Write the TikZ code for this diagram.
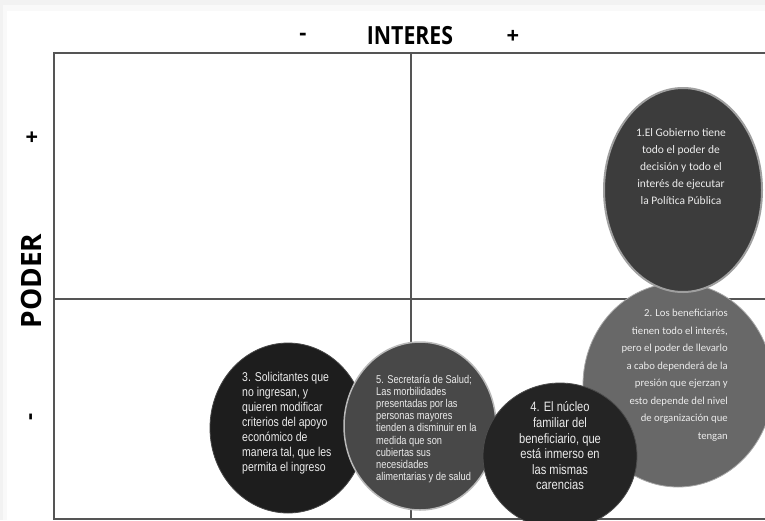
\documentclass[tikz,border=0pt]{standalone}
\usepackage{fontspec}
\usepackage{tikz}
\usetikzlibrary{shapes.geometric}
\newfontfamily\calfont{Carlito}
\newfontfamily\narrowfont[FakeStretch=0.82]{Liberation Sans}
\newfontfamily\headfont{Open Sans}
\newfontfamily\headnarrow[FakeStretch=0.85]{Open Sans}
\definecolor{gridgray}{HTML}{555555}
\definecolor{blobA}{HTML}{3C3C3C}
\definecolor{blobB}{HTML}{686868}
\definecolor{blobC}{HTML}{1D1D1D}
\definecolor{blobD}{HTML}{242424}
\definecolor{blobE}{HTML}{484848}
\definecolor{txtgray}{HTML}{ECECEC}

\begin{document}
\begin{tikzpicture}[x=1pt,y=-1pt,
    blob/.style={ellipse,inner sep=0pt},
    grid/.style={draw=gridgray,line width=1.2pt},
    caltext/.style={text=txtgray,font=\calfont\fontsize{11.5}{17}\selectfont,inner sep=0pt},
    nartext/.style={text=txtgray,inner sep=0pt}]
                % Draw the page and its shadow
                \useasboundingbox (0,0) rectangle (765,520);
                \fill[gray!10] (0,0) rectangle (765,520);
                \fill[gray!5] (3,5) rectangle (765,520);
                \fill[white] (7,11) rectangle (765,520);
                % Draw the axis labels
                \node[font=\headnarrow\bfseries\fontsize{25}{25}\selectfont] (intlab) at (410,36) {INTERES};
                \node[font=\headfont\bfseries\fontsize{22}{22}\selectfont] (intlo) at (303,37) {-};
                \node[font=\headfont\bfseries\fontsize{22}{22}\selectfont] (inthi) at (513,37) {+};
                \node[font=\headfont\bfseries\fontsize{28}{28}\selectfont,rotate=90] (podlab) at (31,281) {PODER};
                \node[font=\headfont\bfseries\fontsize{22}{22}\selectfont,rotate=90] (podhi) at (33,137) {+};
                \node[font=\headfont\bfseries\fontsize{22}{22}\selectfont,rotate=90] (podlo) at (33,417) {-};
                % Draw the four quadrants
                \draw[grid] (765,53) -- (54,53) -- (54,519) -- (765,519);
                \draw[grid] (411,53) -- (411,519);
                \draw[grid] (54,299) -- (765,299);
                % Draw the stakeholder ellipses
                \node[blob,fill=blobC,draw=gray!55!black,line width=0.8pt,minimum width=156pt,minimum height=170pt] (solic) at (288,428) {};
                \node[blob,fill=blobE,draw=gray!55,line width=1.5pt,minimum width=152pt,minimum height=168pt] (salud) at (420,426) {};
                \node[blob,fill=blobB,draw=gray!70,line width=0.8pt,minimum width=190pt,minimum height=204pt] (benef) at (678,385) {};
                \node[blob,fill=blobA,draw=gray!75,line width=2pt,minimum width=158pt,minimum height=204pt] (gobier) at (683,190) {};
                \node[blob,fill=blobD,draw=gray!60!black,line width=0.8pt,minimum width=154pt,minimum height=146pt] (nucleo) at (560,456) {};
                % Put the texts inside
                \node[caltext,align=center] (gobtxt) at (681,167)
                    {1.El Gobierno tiene\\todo el poder de\\decisión y todo el\\interés de ejecutar\\la Política Pública};
                \node[caltext,align=right,anchor=east,font=\calfont\fontsize{10.7}{17.5}\selectfont] (bentxt) at (728,375)
                    {2. Los beneficiarios\\tienen todo el interés,\\pero el poder de llevarlo\\a cabo dependerá de la\\presión que ejerzan y\\esto depende del nivel\\de organización que\\tengan};
                \node[nartext,align=left,anchor=west,font=\narrowfont\fontsize{12.8}{15}\selectfont] (soltxt) at (242,423)
                    {3. Solicitantes que\\no ingresan, y\\quieren modificar\\criterios del apoyo\\económico de\\manera tal, que les\\permita el ingreso};
                \node[nartext,align=left,anchor=west,font=\narrowfont\fontsize{11.3}{12.1}\selectfont] (saltxt) at (376,429)
                    {5. Secretaría de Salud;\\Las morbilidades\\presentadas por las\\personas mayores\\tienden a disminuir en la\\medida que son\\cubiertas sus\\necesidades\\alimentarias y de salud};
                \node[nartext,align=center,font=\narrowfont\fontsize{13.6}{15.6}\selectfont] (nuctxt) at (560,446)
                    {4. El núcleo\\familiar del\\beneficiario, que\\está inmerso en\\las mismas\\carencias};
            \end{tikzpicture}
\end{document}
